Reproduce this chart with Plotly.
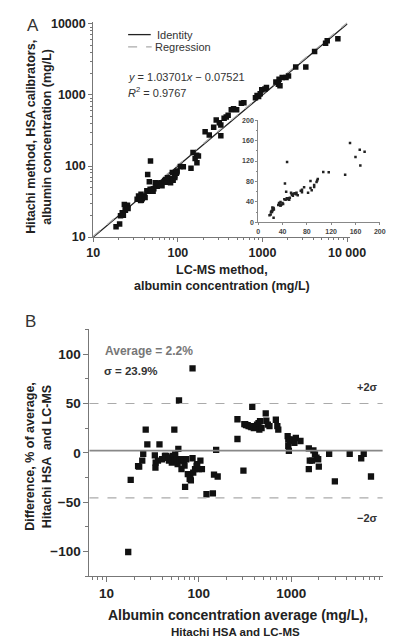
import plotly.graph_objects as go

# ---------------- Panel A data (LC-MS vs Hitachi, mg/L) ----------------
lcms = [18.6, 20.5, 21, 22, 22.7, 23.3, 24, 24, 25.4, 25.8, 25.3,
        33, 34.3, 35, 36.3, 36.7, 37, 38, 40, 41,
        43, 44, 45, 46, 47.5, 47, 48, 49, 50, 51, 52,
        54, 55, 56, 57, 58, 60, 62, 63, 65,
        70, 72, 72, 75.5, 82, 86, 86, 88, 92, 92, 96, 97, 98,
        107, 116, 143, 151, 160, 167, 168, 175,
        210, 235, 265, 284, 309, 322, 322, 352, 373, 393, 428, 455, 495, 563, 603,
        826, 863, 900, 940, 980, 1070, 1114, 1440, 1540, 1570, 1610, 1710, 1897, 2030,
        2470, 3250, 4130, 5570, 5820, 7780]
hitachi = [14, 15.3, 20, 22, 20.3, 28.8, 23.9, 26, 28, 25.2, 9,
           34, 37.8, 36, 32.8, 40, 33, 34.6, 38, 36,
           45, 76, 44, 60, 118, 47, 45, 46, 47, 44, 48,
           58, 55, 54, 52, 56, 57, 55, 58, 53,
           62, 64, 59, 68.6, 58, 67, 81, 63, 69, 73, 79, 82, 85,
           98.7, 98, 93, 155, 128, 142, 111, 138,
           305, 274, 351, 443, 406, 378, 268, 470, 492, 519, 622, 643, 622, 767, 778,
           916, 981, 955, 1040, 1190, 1216, 1280, 1530, 1420, 1670, 1350, 1760, 1760, 1850,
           2470, 2470, 4110, 5360, 5790, 6170]

identity_x = [10, 10000]
reg_slope, reg_intercept = 1.03701, -0.07521

# ---------------- Panel B data (Bland-Altman) ----------------
avg_conc = [17.2, 18.3, 22, 22.6, 24.4, 25, 26.6, 27.7,
            33.4, 34.1, 33.9, 36.1, 37.5, 40, 43, 44, 45.6, 46.8, 47.5, 49.4, 51, 52, 53, 54.3,
            54.6, 55.5, 57.7, 59, 60, 61, 62.4, 64.9, 65.9, 69, 70, 71, 73, 76, 79.6, 80.9, 82,
            85.5, 85.5, 87, 91, 94.5, 96, 100, 104, 108, 121, 142, 146, 154, 160,
            262, 262, 304, 311, 318, 325, 338, 346, 359, 370, 379, 394, 411, 427, 443, 452,
            460, 478, 530, 538, 559, 582, 682, 708, 725,
            916, 930, 930, 944, 967, 1042, 1083, 1123, 1260,
            1552, 1552, 1590, 1680, 1740, 1810, 1880, 1960, 1990,
            2576, 2970, 4300, 5730, 6100, 7310]
diff_pct = [-100.5, -27.5, -13.5, -14, -8, -1, 23.5, 8.5,
            -2.5, -10, -15, -8, 8.5, -6.5, -3, -3, -5, -5, -8, -6.5, -10, -3, -5, 23.5,
            -8, -1.5, -6.5, -11.5, 4, 53, -8, -16.5, -6.5, -8, -13, -34.5, -6.5, -21.5, -26.5, -23, -28,
            85.5, -5.5, -20, -16.5, -13, -11.5, -16.5, -8, -16.5, -42, -41, -22, 3, -24,
            34, 14, -18, 29, 29, 28, 28, 27, 27, 26, 46.5, 25, 27, 28.5, 30, 23.5,
            32, 25, 40, 32.5, 28.5, 27, 33.5, 27, 23.5,
            17, 13.5, 7, 2, 12, 13.5, 10, 15, 12,
            4.5, -16.5, -8, -8, 2.5, -1.5, -5, -6.5, -14,
            -1, -29, -1, -5.5, -1, -24]
mean_diff = 2.2
sd_diff = 23.9

A_ticks = [10, 100, 1000, 10000]
A_xticktext = ["10", "100", "1000", "10 000"]
A_yticktext = ["10", "100", "1000", "10000"]
inset_ticks = [0, 40, 80, 120, 160, 200]
B_xticks = [10, 100, 1000]
B_yticks = [-100, -50, 0, 50, 100]
B_yticktext = ["\u2212100", "\u221250", "0", "50", "100"]
legend_labels = ["Identity", "Regression"]

FONT = "Liberation Sans, Arial, sans-serif"
W, H = 401, 643

def px(x):
    return x / W

def py(y):
    return 1 - y / H

fig = go.Figure()

# Panel A main
fig.add_trace(go.Scatter(x=identity_x, y=identity_x, mode="lines",
                         line=dict(color="#222", width=1.3), name=legend_labels[0],
                         showlegend=False, xaxis="x", yaxis="y"))
fig.add_trace(go.Scatter(x=identity_x, y=[reg_slope * v + reg_intercept for v in identity_x],
                         mode="lines", line=dict(color="#aaa", width=1.2, dash="dash"),
                         name=legend_labels[1], showlegend=False, xaxis="x", yaxis="y"))
fig.add_trace(go.Scatter(x=lcms, y=hitachi, mode="markers",
                         marker=dict(symbol="square", size=5.5, color="#111"),
                         showlegend=False, xaxis="x", yaxis="y"))
# Inset
fig.add_trace(go.Scatter(x=lcms, y=hitachi, mode="markers",
                         marker=dict(symbol="square", size=2.5, color="#222"),
                         showlegend=False, xaxis="x2", yaxis="y2", cliponaxis=True))
# Panel B
fig.add_trace(go.Scatter(x=avg_conc, y=diff_pct, mode="markers",
                         marker=dict(symbol="square", size=6.3, color="#111"),
                         showlegend=False, xaxis="x3", yaxis="y3"))

ax_common = dict(showgrid=False, zeroline=False, showline=True, linecolor="#777",
                 linewidth=1, ticks="outside", tickcolor="#777",
                 tickfont=dict(family=FONT, size=12.5, color="#222", weight="bold"))

fig.update_layout(
    width=W, height=H, margin=dict(l=0, r=0, t=0, b=0),
    paper_bgcolor="white", plot_bgcolor="white",
    font=dict(family=FONT, color="#222"),
    showlegend=False,
    xaxis=dict(**ax_common, type="log", domain=[px(83), px(355)], range=[1, 4.03],
               tickvals=A_ticks, ticktext=A_xticktext, ticklen=4,
               minor=dict(ticks="outside", ticklen=2, tickcolor="#777", dtick="D1"),
               anchor="y"),
    yaxis=dict(**ax_common, type="log", domain=[py(229), py(10)], range=[1, 4.03],
               tickvals=A_ticks, ticktext=A_yticktext, ticklen=4,
               minor=dict(ticks="outside", ticklen=2, tickcolor="#777", dtick="D1"),
               anchor="x"),
    xaxis2=dict(showgrid=False, zeroline=False, showline=True, linecolor="#888", linewidth=1,
                ticks="outside", tickcolor="#888", ticklen=2,
                tickfont=dict(family=FONT, size=7, color="#444", weight="bold"),
                domain=[px(258), px(387)], range=[0, 200], tickvals=inset_ticks,
                anchor="y2"),
    yaxis2=dict(showgrid=False, zeroline=False, showline=True, linecolor="#888", linewidth=1,
                ticks="outside", tickcolor="#888", ticklen=2,
                tickfont=dict(family=FONT, size=7, color="#444", weight="bold"),
                domain=[py(214), py(110)], range=[0, 200], tickvals=inset_ticks,
                minor=dict(ticks="outside", ticklen=1.5, tickcolor="#888", dtick=20),
                anchor="x2"),
    xaxis3=dict(**ax_common, type="log", domain=[px(79), px(390)], range=[0.816, 3.99],
                tickvals=B_xticks, ticklen=5,
                minor=dict(ticks="outside", ticklen=3, tickcolor="#777", dtick="D1"),
                anchor="y3"),
    yaxis3=dict(**ax_common, domain=[py(574), py(323)], range=[-125, 125],
                tickvals=B_yticks, ticktext=B_yticktext, ticklen=5,
                minor=dict(ticks="outside", ticklen=3, tickcolor="#777", dtick=25),
                anchor="x3"),
)
fig.update_layout(xaxis3_tickfont_size=13.5, yaxis3_tickfont_size=13.5)

# Panel B reference lines
fig.add_shape(type="line", xref="x3 domain", x0=0, x1=1, yref="y3", y0=mean_diff, y1=mean_diff,
              line=dict(color="#888", width=1.6))
for k in (2, -2):
    yv = mean_diff + k * sd_diff
    fig.add_shape(type="line", xref="x3 domain", x0=0, x1=1, yref="y3", y0=yv, y1=yv,
                  line=dict(color="#aaa", width=1.2, dash="dash"))

def ann(text, x, y, size, bold=True, color="#222", angle=0, xanchor="center", yanchor="middle", align="center"):
    fig.add_annotation(text=text, x=px(x), y=py(y), xref="paper", yref="paper",
                       showarrow=False, textangle=angle, xanchor=xanchor, yanchor=yanchor,
                       align=align,
                       font=dict(family=FONT, size=size, color=color,
                                 weight="bold" if bold else "normal"))

# Legend for panel A (drawn as key lines + labels)
fig.add_shape(type="line", xref="paper", yref="paper", x0=px(120), x1=px(144),
              y0=py(23), y1=py(23), line=dict(color="#222", width=1.3))
fig.add_shape(type="line", xref="paper", yref="paper", x0=px(120), x1=px(145),
              y0=py(35.5), y1=py(35.5), line=dict(color="#aaa", width=1.2, dash="dash"))
ann(legend_labels[0], 149, 23, 11, bold=False, color="#333", xanchor="left")
ann(legend_labels[1], 146, 35.5, 11, bold=False, color="#333", xanchor="left")

# Panel labels
ann("A", 19, 14, 17, bold=False, color="#333")
ann("B", 16, 315, 17, bold=False, color="#333")

# Panel A titles
ann("Hitachi method, HSA calibrators,<br>albumin concentration (mg/L)", 25.5, 127, 12.5, angle=-90)
ann("LC-MS method,<br>albumin concentration (mg/L)", 220, 271, 12.5)

# Regression equation
ann("<i>y</i> = 1.03701<i>x</i> \u2212 0.07521", 118, 66, 11, bold=False, color="#333", xanchor="left")
ann("<i>R</i><sup>2</sup> = 0.9767", 118, 81, 11, bold=False, color="#333", xanchor="left")

# Panel B texts
ann("Average = 2.2%", 93, 345, 12, color="#777", xanchor="left")
ann("\u03c3 = 23.9%", 92, 365, 11.5, color="#333", xanchor="left")
ann("+2\u03c3", 387, 382, 11, color="#333", xanchor="right")
ann("\u22122\u03c3", 387, 515, 11, color="#333", xanchor="right")
ann("Difference, % of average,<br>Hitachi HSA  and LC-MS", 25, 452, 12.5, angle=-90)
ann("Albumin concentration average (mg/L),", 237, 613, 14)
ann("Hitachi HSA and LC-MS", 234, 631, 11.5)

fig.write_html("out.html")
